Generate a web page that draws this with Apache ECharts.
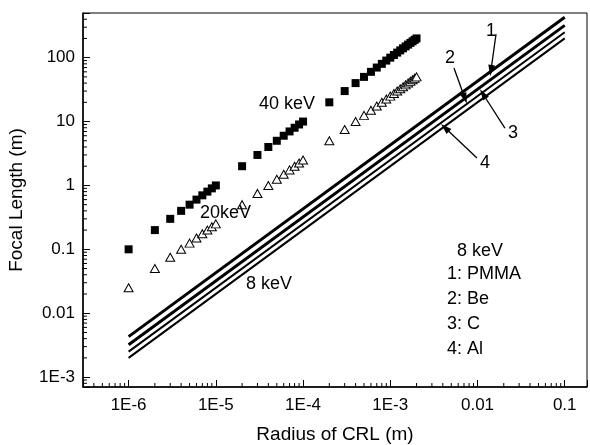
<!DOCTYPE html>
<html>
<head>
<meta charset="utf-8">
<script src="https://cdn.jsdelivr.net/npm/echarts@6/dist/echarts.min.js"></script>
<style>
  html, body { margin: 0; padding: 0; background: #fff; }
  #main { width: 590px; height: 445px; }
</style>
</head>
<body>
<div id="main"></div>
<script>
// CRL radius (m) for the 40 keV / 20 keV point series
var radius = [
  1e-6, 2e-6, 3e-6, 4e-6, 5e-6, 6e-6, 7e-6, 8e-6, 9e-6, 1e-5,
  2e-5, 3e-5, 4e-5, 5e-5, 6e-5, 7e-5, 8e-5, 9e-5, 1e-4,
  2e-4, 3e-4, 4e-4, 5e-4, 6e-4, 7e-4, 8e-4, 9e-4, 1e-3,
  1.1e-3, 1.2e-3, 1.3e-3, 1.4e-3, 1.5e-3, 1.6e-3, 1.7e-3, 1.8e-3, 1.9e-3, 2e-3
]
var focal40 = [
  0.1, 0.2, 0.3, 0.4, 0.5, 0.6, 0.7, 0.8, 0.9, 1,
  2, 3, 4, 5, 6, 7, 8, 9, 10,
  20, 30, 40, 50, 60, 70, 80, 90, 100,
  110, 120, 130, 140, 150, 160, 170, 180, 190, 200
]
var focal20 = [
  0.025, 0.05, 0.075, 0.1, 0.125, 0.15, 0.175, 0.2, 0.225, 0.25,
  0.5, 0.75, 1, 1.25, 1.5, 1.75, 2, 2.25, 2.5,
  5, 7.5, 10, 12.5, 15, 17.5, 20, 22.5, 25,
  27.5, 30, 32.5, 35, 37.5, 40, 42.5, 45, 47.5, 50
]

// 8 keV lines (end points)
var lineRadius = [1e-6, 0.1]
var focalPMMA = [0.0043, 430]
var focalBe = [0.0032, 320]
var focalC = [0.0025, 250]
var focalAl = [0.002, 200]

// tick labels
var xTickValues = [1e-6, 1e-5, 1e-4, 1e-3, 0.01, 0.1]
var xTickLabels = ['1E-6', '1E-5', '1E-4', '1E-3', '0.01', '0.1']
var yTickValues = [1e-3, 0.01, 0.1, 1, 10, 100]
var yTickLabels = ['1E-3', '0.01', '0.1', '1', '10', '100']

var xMin = 3e-7, xMax = 0.18
var yMin = 7e-4, yMax = 500

function pairs(xs, ys) {
  return xs.map(function (x, i) { return [x, ys[i]] })
}

function tickLabel(values, labels) {
  return function (v) {
    for (var i = 0; i < values.length; i++) {
      if (Math.abs(Math.log10(v) - Math.log10(values[i])) < 1e-6) return labels[i]
    }
    return ''
  }
}

// minor ticks at 2..9 x 10^k
function minorTicks(lo, hi) {
  var out = []
  for (var k = -8; k <= 3; k++) {
    for (var m = 2; m <= 9; m++) {
      var v = m * Math.pow(10, k)
      if (v > lo && v < hi) out.push(v)
    }
  }
  return out
}

var font = 'Liberation Sans, Arial, sans-serif'

var myChart = echarts.init(document.getElementById('main'))

// arrows: tail -> head (head on the line)
var arrowLines = [
  [{ coord: [0.0163, 234] }, { coord: [0.01426, 63] }],
  [{ coord: [0.00537, 68.8] }, { coord: [0.00718, 23] }],
  [{ coord: [0.0206, 7.9] }, { coord: [0.01156, 27] }],
  [{ coord: [0.00986, 2.69] }, { coord: [0.00424, 8] }]
]

function text(str, x, y, size, align) {
  return {
    type: 'text',
    x: x,
    y: y,
    z: 100,
    style: {
      text: str,
      fill: '#000',
      fontSize: size,
      fontFamily: font,
      align: align || 'left',
      verticalAlign: 'middle'
    }
  }
}

var option = {
  animation: false,
  backgroundColor: '#fff',
  grid: {
    left: 83,
    right: 3,
    top: 13,
    bottom: 58,
    outerBoundsMode: 'none',
    show: true,
    borderColor: '#000',
    borderWidth: 1
  },
  xAxis: {
    type: 'log',
    min: xMin,
    max: xMax,
    name: 'Radius of CRL (m)',
    nameLocation: 'middle',
    nameGap: 38,
    nameTextStyle: { color: '#000', fontSize: 19, fontFamily: font },
    axisLine: { lineStyle: { color: '#000', width: 1.5 } },
    axisTick: { inside: true, length: 7, lineStyle: { color: '#000', width: 1 } },
    axisLabel: {
      color: '#000',
      fontSize: 17,
      fontFamily: font,
      margin: 10,
      formatter: tickLabel(xTickValues, xTickLabels)
    },
    splitLine: { show: false }
  },
  yAxis: {
    type: 'log',
    min: yMin,
    max: yMax,
    name: 'Focal Length (m)',
    nameLocation: 'middle',
    nameGap: 57,
    nameTextStyle: { color: '#000', fontSize: 19, fontFamily: font },
    axisLine: { lineStyle: { color: '#000', width: 1.5 } },
    axisTick: { inside: true, length: 7, lineStyle: { color: '#000', width: 1 } },
    axisLabel: {
      color: '#000',
      fontSize: 17,
      fontFamily: font,
      margin: 8,
      formatter: tickLabel(yTickValues, yTickLabels)
    },
    splitLine: { show: false }
  },
  series: [
    {
      name: '8 keV PMMA',
      type: 'line',
      data: pairs(lineRadius, focalPMMA),
      showSymbol: false,
      lineStyle: { color: '#000', width: 3 },
      markLine: {
        silent: true,
        animation: false,
        symbol: ['none', 'path://M5,0 L10,16 L0,16 Z'],
        symbolKeepAspect: true,
        symbolSize: 11,
        label: { show: false },
        lineStyle: { color: '#000', width: 1.3, type: 'solid' },
        data: arrowLines
      }
    },
    {
      name: '8 keV Be',
      type: 'line',
      data: pairs(lineRadius, focalBe),
      showSymbol: false,
      lineStyle: { color: '#000', width: 3 }
    },
    {
      name: '8 keV C',
      type: 'line',
      data: pairs(lineRadius, focalC),
      showSymbol: false,
      lineStyle: { color: '#000', width: 2 }
    },
    {
      name: '8 keV Al',
      type: 'line',
      data: pairs(lineRadius, focalAl),
      showSymbol: false,
      lineStyle: { color: '#000', width: 2 }
    },
    {
      name: '40 keV',
      type: 'scatter',
      symbol: 'rect',
      symbolSize: 8,
      itemStyle: { color: '#000', opacity: 1 },
      data: pairs(radius, focal40)
    },
    {
      name: '20 keV',
      type: 'scatter',
      symbol: 'triangle',
      symbolSize: [9, 8],
      itemStyle: { color: '#fff', borderColor: '#000', borderWidth: 1, opacity: 1 },
      data: pairs(radius, focal20)
    },
    {
      name: 'x minor ticks',
      type: 'custom',
      silent: true,
      clip: false,
      data: minorTicks(xMin, xMax).map(function (v) { return [v, yMin] }),
      renderItem: function (params, api) {
        var p = api.coord([api.value(0), api.value(1)])
        return {
          type: 'line',
          shape: { x1: p[0], y1: p[1], x2: p[0], y2: p[1] - 4 },
          style: { stroke: '#000', lineWidth: 1 }
        }
      }
    },
    {
      name: 'y minor ticks',
      type: 'custom',
      silent: true,
      clip: false,
      data: minorTicks(yMin, yMax).map(function (v) { return [xMin, v] }),
      renderItem: function (params, api) {
        var p = api.coord([api.value(0), api.value(1)])
        return {
          type: 'line',
          shape: { x1: p[0], y1: p[1], x2: p[0] + 4, y2: p[1] },
          style: { stroke: '#000', lineWidth: 1 }
        }
      }
    }
  ],
  graphic: [
    text('40 keV', 259, 104, 18),
    text('20keV', 200, 213, 18),
    text('8 keV', 246, 284, 18),
    text('8 keV', 457, 251, 18),
    text('1: PMMA', 447, 274, 18),
    text('2: Be', 447, 299, 18),
    text('3: C', 447, 324, 18),
    text('4: Al', 447, 349, 18),
    text('1', 491, 31, 18, 'center'),
    text('2', 450, 58, 18, 'center'),
    text('3', 513, 133, 18, 'center'),
    text('4', 485, 163, 18, 'center')
  ]
}

myChart.setOption(option)
</script>
</body>
</html>
